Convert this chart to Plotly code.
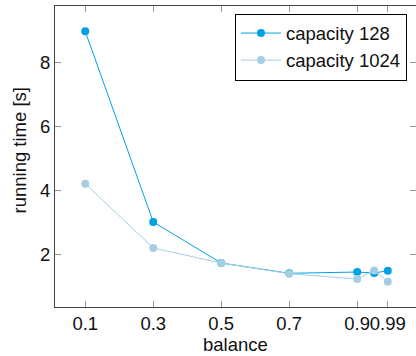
import plotly.graph_objects as go

balance = [0.1, 0.3, 0.5, 0.7, 0.9, 0.95, 0.99]
cap128 = [8.96, 3.02, 1.74, 1.42, 1.46, 1.43, 1.50]
cap1024 = [4.21, 2.21, 1.74, 1.41, 1.24, 1.51, 1.16]
xticks = [0.1, 0.3, 0.5, 0.7, 0.9, 0.99]
xticklabels = ["0.1", "0.3", "0.5", "0.7", "0.9", "0.99"]
yticks = [2, 4, 6, 8]

c1 = "#00a0e2"
c2 = "#a6cee3"
font = "Liberation Sans, Arial, Helvetica, sans-serif"

fig = go.Figure()
fig.add_trace(go.Scatter(x=balance, y=cap128, name="capacity 128", mode="lines+markers",
                         line=dict(color=c1, width=1), marker=dict(color=c1, size=8)))
fig.add_trace(go.Scatter(x=balance, y=cap1024, name="capacity 1024", mode="lines+markers",
                         line=dict(color=c2, width=1), marker=dict(color=c2, size=8)))

axis_common = dict(showgrid=False, zeroline=False, showline=True, linecolor="#444444", linewidth=1,
                   ticks="inside", ticklen=6, tickcolor="#999999", tickwidth=1, mirror="allticks",
                   tickfont=dict(family=font, size=18.5, color="#111111"))
fig.update_xaxes(range=[0.011, 1.073], tickvals=xticks, ticktext=xticklabels, tickangle=0,
                 **axis_common)
fig.update_yaxes(range=[0.37, 9.75], tickvals=yticks, **axis_common)

fig.update_layout(
    width=416, height=356,
    margin=dict(l=55, r=0, t=6, b=49),
    paper_bgcolor="white", plot_bgcolor="white",
    showlegend=True,
    legend=dict(x=0.975, y=0.975, xanchor="right", yanchor="top",
                bordercolor="black", borderwidth=1, bgcolor="white",
                font=dict(family=font, size=18.5, color="#111111"),
                tracegroupgap=0, itemwidth=40),
    annotations=[
        dict(text="running time [s]", x=-0.0997, y=0.52, xref="paper", yref="paper",
             showarrow=False, textangle=-90, xanchor="center", yanchor="middle",
             font=dict(family=font, size=18.5, color="#111111")),
        dict(text="balance", x=0.5, y=-0.1246, xref="paper", yref="paper",
             showarrow=False, xanchor="center", yanchor="middle",
             font=dict(family=font, size=18.5, color="#111111")),
    ],
)

fig.write_html("out.html")
